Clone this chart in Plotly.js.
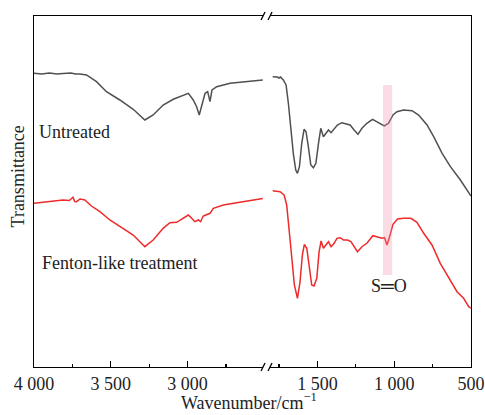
<!DOCTYPE html>
<html>
<head>
<meta charset="utf-8">
<script src="https://cdn.plot.ly/plotly-3.0.1.min.js"></script>
<style>html,body{margin:0;padding:0;background:#fff;}#chart{width:485px;height:415px;}</style>
</head>
<body>
<div id="chart"></div>
<script>
// Untreated, high-wavenumber segment
const untreatedHighX = [4000,3950,3900,3850,3811,3760,3730,3702,3658,3593,3528,3441,3354,3278,3224,3159,3093,3028,2995,2963,2941,2924,2901,2886,2869,2854,2841,2810,2723,2615,2510];
const untreatedHighY = [293.7,293,294,293,293.5,294,293,293,292,285.3,275.3,267,257.7,247,252,262,267.7,272,273.7,267,260.3,252,263.7,273.7,275.3,265.3,277,280.3,283.7,285.3,287];
// Untreated, low-wavenumber segment
const untreatedLowX = [1791,1760,1750,1740,1722,1704,1689,1674,1657,1641,1630,1617,1602,1587,1574,1559,1543,1526,1510,1493,1478,1461,1445,1428,1411,1391,1370,1341,1313,1287,1261,1236,1210,1178,1141,1113,1086,1065,1037,1008,982,939,884,841,786,743,688,634,569,515,500];
const untreatedLowY = [290.3,290,289,290,287,282,263.7,240.3,213.7,197,193.7,200.3,223.7,237.7,235.3,220.3,202,199.3,203.7,223.7,238.7,230.3,233.7,237,234.3,238.7,242,244.3,243,242,237,232.7,238.7,243.7,247.7,245.3,243,241,243.7,252,255.3,257,256.3,252,242,230.3,213.7,200.3,187,174,171];
// Fenton-like treatment, high-wavenumber segment
const fentonHighX = [4000,3950,3898,3850,3811,3770,3746,3735,3723,3700,3669,3626,3571,3506,3419,3354,3278,3224,3159,3115,3071,3028,2995,2973,2952,2930,2915,2898,2854,2832,2767,2680,2593,2510];
const fentonHighY = [163.7,164.5,165.3,166,167,166.5,169.7,165.5,165.3,168,167,161,155.3,147,138.7,132,120.3,127,138.7,144.3,144.7,148.7,152,148.7,145.3,147,145.3,151,153.7,158.7,162,164.3,166.3,168.5];
// Fenton-like treatment, low-wavenumber segment
const fentonLowX = [1791,1743,1717,1700,1683,1667,1650,1630,1613,1598,1585,1569,1554,1537,1522,1504,1489,1476,1461,1443,1428,1411,1391,1373,1352,1330,1304,1282,1261,1239,1210,1178,1139,1109,1080,1063,1047,1032,1008,978,939,891,852,808,754,700,645,591,548,515,500];
const fentonLowY = [176.3,175.3,172,162,135.3,108.7,82,68.7,85.3,112,122.7,118.7,98.7,82,81,88.7,115.3,126,118.7,122,125.3,120.3,123.7,128.7,129.3,127,127,125.3,120.3,115.3,120.3,123.7,131.3,130.3,128.7,129.3,122,129.3,142.7,148,148.7,148.7,144.7,133.7,122,103.7,88.7,75.3,68.7,60.3,59];

// Tick labels
const highTickVals = [4000,3500,3000];
const highTickText = ['4 000','3 500','3 000'];
const highMinorVals = [3750,3250,2750];
const lowTickVals = [1500,1000,500];
const lowTickText = ['1 500','1 000','500'];
const lowMinorVals = [1750,1250,750];

// Band (S=O) and labels
const bandRange = [1073,1013];
const seriesNames = ['Untreated','Fenton-like treatment'];

const FONT = 'Liberation Serif, Times New Roman, serif';
const GRAY = '#505050', RED = '#ee2a2a';

const traces = [
  {x: untreatedHighX, y: untreatedHighY, xaxis:'x', yaxis:'y', mode:'lines', line:{color:GRAY, width:1.5}, name:seriesNames[0]},
  {x: untreatedLowX, y: untreatedLowY, xaxis:'x2', yaxis:'y2', mode:'lines', line:{color:GRAY, width:1.5}, name:seriesNames[0]},
  {x: fentonHighX, y: fentonHighY, xaxis:'x', yaxis:'y', mode:'lines', line:{color:RED, width:1.5}, name:seriesNames[1]},
  {x: fentonLowX, y: fentonLowY, xaxis:'x2', yaxis:'y2', mode:'lines', line:{color:RED, width:1.5}, name:seriesNames[1]}
];

const d1 = 0.5241, d2 = 0.5401;
const axisCommon = {showgrid:false, zeroline:false, showline:true, linecolor:'#000', linewidth:1.3,
  ticks:'inside', ticklen:6, tickwidth:1.2, tickcolor:'#000', tickfont:{family:FONT, size:18, color:'#222'}};

const sl = 0.0046, sh = 0.0114;
function slash(cx, cy){ return {type:'line', xref:'paper', yref:'paper', x0:cx-sl, y0:cy-sh, x1:cx+sl, y1:cy+sh, line:{color:'#000', width:1.3}}; }

const layout = {
  width:485, height:415,
  margin:{l:34.3, r:14.3, t:16, b:48, pad:0},
  paper_bgcolor:'#fff', plot_bgcolor:'#fff',
  showlegend:false,
  font:{family:FONT, color:'#222'},
  xaxis: Object.assign({}, axisCommon, {domain:[0,d1], range:[4000,2508.5], anchor:'y', mirror:true,
    tickmode:'array', tickvals:highTickVals, ticktext:highTickText,
    minor:{tickmode:'array', tickvals:highMinorVals, ticks:'inside', ticklen:3.5, tickwidth:1.2, tickcolor:'#000'}}),
  xaxis2: Object.assign({}, axisCommon, {domain:[d2,1], range:[1808.5,500], anchor:'y2', mirror:true,
    tickmode:'array', tickvals:lowTickVals, ticktext:lowTickText,
    minor:{tickmode:'array', tickvals:lowMinorVals, ticks:'inside', ticklen:3.5, tickwidth:1.2, tickcolor:'#000'}}),
  yaxis: {domain:[0,1], range:[0,351], anchor:'x', showgrid:false, zeroline:false, showline:true, linecolor:'#000', linewidth:1.3, showticklabels:false, ticks:''},
  yaxis2: {domain:[0,1], range:[0,351], anchor:'x2', side:'right', showgrid:false, zeroline:false, showline:true, linecolor:'#000', linewidth:1.3, showticklabels:false, ticks:''},
  shapes:[
    {type:'rect', xref:'x2', yref:'y2', x0:bandRange[0], x1:bandRange[1], y0:92, y1:282, fillcolor:'rgb(238,140,168)', opacity:0.3, line:{width:0}, layer:'above'},
    slash(0.5241,1), slash(0.5401,1), slash(0.5241,0), slash(0.5401,0)
  ],
  annotations:[
    {text:seriesNames[0], xref:'x', yref:'y', x:3982, y:235, xanchor:'left', yanchor:'middle', showarrow:false, font:{family:FONT, size:18, color:'#222'}},
    {text:seriesNames[1], xref:'x', yref:'y', x:3958, y:104, xanchor:'left', yanchor:'middle', showarrow:false, font:{family:FONT, size:18, color:'#222'}},
    {text:'S═O', xref:'x2', yref:'y2', x:1032, y:81, xanchor:'center', yanchor:'middle', showarrow:false, font:{family:FONT, size:18, color:'#222'}},
    {text:'Wavenumber/cm<sup>−1</sup>', xref:'paper', yref:'paper', x:0.492, y:-0.097, xanchor:'center', yanchor:'middle', showarrow:false, font:{family:FONT, size:18, color:'#222'}},
    {text:'Transmittance', xref:'paper', yref:'paper', x:-0.0367, y:0.5427, xanchor:'center', yanchor:'middle', textangle:-90, showarrow:false, font:{family:FONT, size:18, color:'#222'}}
  ]
};

Plotly.newPlot('chart', traces, layout, {staticPlot:true, displayModeBar:false});
</script>
</body>
</html>
